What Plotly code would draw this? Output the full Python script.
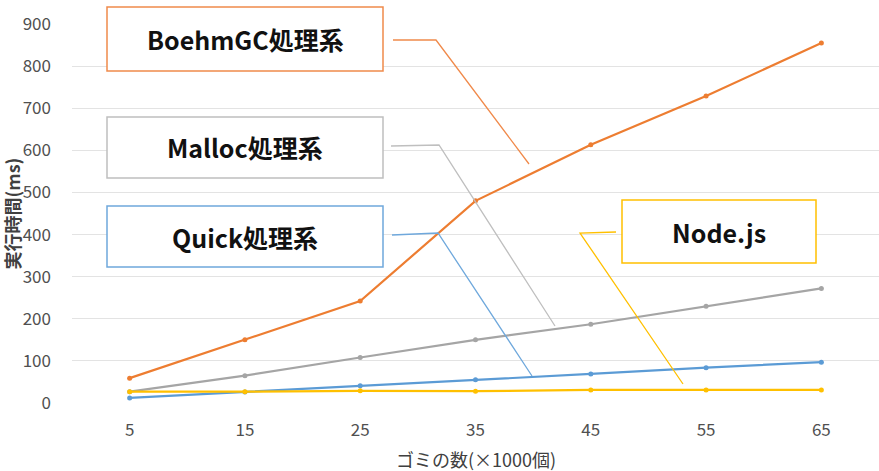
import plotly.graph_objects as go

# ---- data ----
x_vals = [5, 15, 25, 35, 45, 55, 65]
boehm = [59, 150, 242, 480, 613, 729, 855]
malloc = [27, 65, 108, 150, 187, 230, 272]
quick = [12, 26, 41, 55, 69, 84, 97]
node = [27, 27, 29, 28, 31, 31, 31]
y_ticks = [0, 100, 200, 300, 400, 500, 600, 700, 800, 900]
x_title = "ゴミの数(×1000個)"
y_title = "実行時間(ms)"
labels = ["BoehmGC処理系", "Malloc処理系", "Quick処理系", "Node.js"]

W, H = 879, 471
L, R, T, B = 72, 0, 24, 68
PW, PH = W - L - R, H - T - B

def px(x, y):
    return (x - L) / PW, (H - B - y) / PH

FONT = "Noto Sans CJK JP"
colors = ["#ED7D31", "#A5A5A5", "#5B9BD5", "#FFC000"]
series = [boehm, malloc, quick, node]

fig = go.Figure()
for s, c, n in zip(series, colors, labels):
    fig.add_trace(go.Scatter(x=x_vals, y=s, mode="lines+markers", name=n,
                             line=dict(color=c, width=2.2),
                             marker=dict(color=c, size=5)))

shapes = []
annotations = []
boxes = [
    ((107, 7, 383, 71), (245, 39), [(393, 40), (436, 40), (529, 164)], "#F08A4B"),
    ((107, 117, 383, 178), (245, 147), [(391, 146), (439, 145), (555, 326)], "#BFBFBF"),
    ((107, 206, 383, 267), (245, 237), [(392, 235), (438, 233), (532, 376)], "#6FA8DC"),
    ((622, 200, 816, 263), (719, 232), [(616, 232), (580, 233), (683, 384)], "#FFC000"),
]
for (bx, tc, pts, col), lab in zip(boxes, labels):
    x0, y0 = px(bx[0], bx[3])
    x1, y1 = px(bx[2], bx[1])
    shapes.append(dict(type="rect", xref="paper", yref="paper", x0=x0, y0=y0, x1=x1, y1=y1,
                       line=dict(color=col, width=1.5), fillcolor="white", layer="above"))
    path = ""
    for i, (a, b) in enumerate(pts):
        pa, pb = px(a, b)
        path += ("M" if i == 0 else "L") + f"{pa},{pb} "
    shapes.append(dict(type="path", xref="paper", yref="paper", path=path.strip(),
                       line=dict(color=col, width=1.3), layer="above"))
    tx, ty = px(*tc)
    annotations.append(dict(xref="paper", yref="paper", x=tx, y=ty, text=f"<b>{lab}</b>",
                            showarrow=False, xanchor="center", yanchor="middle",
                            font=dict(family=FONT, size=25, color="#111111")))

annotations.append(dict(xref="paper", yref="paper", x=0.5, y=0, yanchor="middle", yshift=-56,
                        text=x_title, showarrow=False,
                        font=dict(family=FONT, size=18, color="#404040")))
annotations.append(dict(xref="paper", yref="paper", x=0, y=0.5, xanchor="center", xshift=-61,
                        text=f"<b>{y_title}</b>", showarrow=False, textangle=-90,
                        font=dict(family=FONT, size=18, color="#404040")))

fig.update_layout(
    width=W, height=H,
    margin=dict(l=L, r=R, t=T, b=B),
    paper_bgcolor="white", plot_bgcolor="white",
    showlegend=False,
    font=dict(family=FONT, size=17, color="#595959"),
    xaxis=dict(range=[0, 70], tickvals=x_vals, ticktext=[str(v) for v in x_vals],
               showgrid=False, zeroline=False, showline=False,
               ticklabelstandoff=15, tickfont=dict(size=17, color="#505050")),
    yaxis=dict(range=[0, 900], tickvals=y_ticks, showgrid=True, gridcolor="#E3E3E3",
               gridwidth=1, zeroline=False, showline=False,
               ticklabelstandoff=20, tickfont=dict(size=17, color="#505050")),
    shapes=shapes, annotations=annotations,
)
fig.write_html("out.html")
